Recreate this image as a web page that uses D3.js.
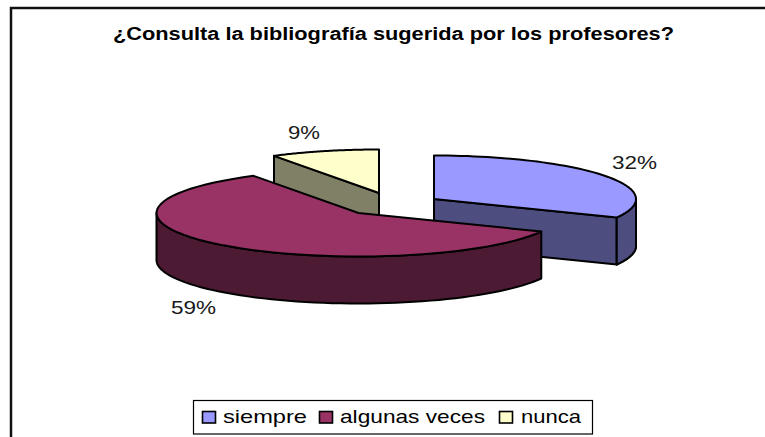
<!DOCTYPE html>
<html><head><meta charset="utf-8">
<script src="https://cdn.jsdelivr.net/npm/d3@7"></script>
<style>html,body{margin:0;padding:0;background:#fff}svg{display:block}</style>
</head><body><svg id="c" width="765" height="437"></svg>
<script>
const titleText = "¿Consulta la bibliografía sugerida por los profesores?";
const categories = ["siempre", "algunas veces", "nunca"];
const values = [32, 59.3, 8.7];
const labels = ["32%", "59%", "9%"];
const topColors = ["#9999ff", "#993366", "#ffffcc"];
const wallColors = ["#4d4d80", "#4d1a33", "#808066"];

const svg = d3.select("#c");
const rx = d3.scaleLinear().domain([0, 1]).range([0, 202]);
const ry = d3.scaleLinear().domain([0, 1]).range([0, 43.5]);
const depth = 47;
const centers = [[434, 199], [358.5, 213], [379, 193]];
const labelBox = [[612, 169, 45], [171, 314, 45], [288, 139, 32]];

const arcs = d3.pie().sort(null).value(d => d)(values);
const pt = (c, a, r = 1, dy = 0) => [c[0] + rx(r) * Math.sin(a), c[1] - ry(r) * Math.cos(a) + dy];
const line = d3.line();
const rim = (c, a0, a1, dy = 0) => d3.range(0, 61).map(i => pt(c, a0 + (a1 - a0) * i / 60, 1, dy));

svg.append("path").attr("d", "M11,437V8H765").attr("fill", "none").attr("stroke", "#111").attr("stroke-width", 2.5);

svg.append("text").text(titleText).attr("x", 113).attr("y", 40)
  .attr("textLength", 561).attr("lengthAdjust", "spacingAndGlyphs")
  .attr("font-family", "Liberation Sans").attr("font-weight", "bold").attr("font-size", 18).attr("fill", "#000");

const S = 2;
function drawSlice(i) {
  const c = centers[i], a = arcs[i], a0 = a.startAngle, a1 = a.endAngle;
  const g = svg.append("g").attr("stroke", "#000").attr("stroke-width", S).attr("stroke-linejoin", "round");
  const face = (ang) => [c, pt(c, ang), pt(c, ang, 1, depth), [c[0], c[1] + depth]];
  if (i === 0) g.append("path").attr("d", line(face(a1)) + "Z").attr("fill", wallColors[i]);
  if (i === 2) g.append("path").attr("d", line(face(a0)) + "Z").attr("fill", wallColors[i]);
  const lo = Math.max(a0, Math.PI / 2), hi = Math.min(a1, 3 * Math.PI / 2);
  if (hi > lo) {
    g.append("path").attr("d", line(rim(c, lo, hi).concat(rim(c, hi, lo, depth))) + "Z").attr("fill", wallColors[i]);
  }
  if (i === 0) {
    const far = d3.range(0, 31).map(j => pt(c, Math.PI / 2 + (a1 - Math.PI / 2) * j / 30));
    g.append("path").attr("d", line(far.concat(far.slice().reverse().map(p => [p[0], p[1] + depth]))) + "Z").attr("fill", wallColors[i]);
  }
  g.append("path").attr("d", line([c].concat(rim(c, a0, a1))) + "Z").attr("fill", topColors[i]);
}
[2, 0, 1].forEach(drawSlice);

labels.forEach((t, i) => svg.append("text").text(t).attr("x", labelBox[i][0]).attr("y", labelBox[i][1])
  .attr("textLength", labelBox[i][2]).attr("lengthAdjust", "spacingAndGlyphs")
  .attr("font-family", "Liberation Sans").attr("font-size", 19).attr("fill", "#1a1a1a"));

const legendSwatchX = [202.5, 319.5, 499.5], legendTextX = [223, 340, 521], legendTextW = [84, 145, 60];
svg.append("rect").attr("x", 193.5).attr("y", 400.5).attr("width", 399).attr("height", 33.5)
  .attr("fill", "#fff").attr("stroke", "#000").attr("stroke-width", 1.2);
categories.forEach((t, i) => {
  svg.append("rect").attr("x", legendSwatchX[i]).attr("y", 411.5).attr("width", 13).attr("height", 11.5)
    .attr("fill", topColors[i]).attr("stroke", "#000").attr("stroke-width", 1.6);
  svg.append("text").text(t).attr("x", legendTextX[i]).attr("y", 422.5)
    .attr("textLength", legendTextW[i]).attr("lengthAdjust", "spacingAndGlyphs")
    .attr("font-family", "Liberation Sans").attr("font-size", 19).attr("fill", "#000");
});
</script></body></html>
